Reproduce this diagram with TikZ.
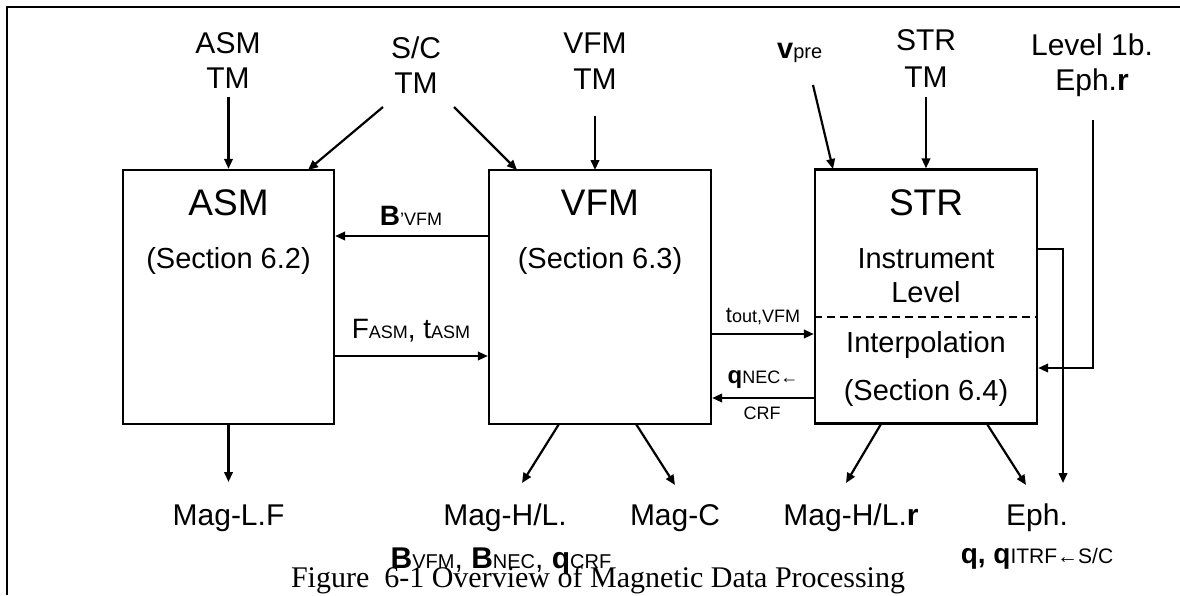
\documentclass[tikz,border=0pt]{standalone}
\usepackage{fontspec}
\setmainfont{Liberation Sans}
\newfontfamily\capfont{Liberation Serif}
\usetikzlibrary{arrows.meta}
\newcommand{\fs}[1]{\fontsize{#1}{#1}\selectfont}
\begin{document}
\begin{tikzpicture}[x=1pt,y=-1pt,
  box/.style={draw, line width=2.3pt, inner sep=0pt},
  txt/.style={inner sep=0pt, anchor=base, font={\fs{30}}},
  title/.style={inner sep=0pt, anchor=base, font={\fs{37}}},
  inner/.style={inner sep=0pt, anchor=base, font={\fs{29}}},
  lab/.style={inner sep=0pt, anchor=base},
  arr/.style={line width=2.2pt, -{Triangle[length=10pt,width=8.5pt]}}
]
\useasboundingbox (0,0) rectangle (1180,595);
% frame
\draw[line width=2.8pt] (7,595) -- (7,7) -- (1180,7);

% boxes
\node[box, minimum width=211pt, minimum height=254pt] (asm) at (228.5,297) {};
\node[box, minimum width=222pt, minimum height=254pt] (vfm) at (600,297) {};
\node[box, minimum width=222pt, minimum height=254pt] (str) at (926,296.5) {};

% box texts
\node[title] (asmT) at (228.5,215) {ASM};
\node[inner] (asmS) at (228.5,268) {(Section 6.2)};
\node[title] (vfmT) at (600,215) {VFM};
\node[inner] (vfmS) at (600,268) {(Section 6.3)};
\node[title] (strT) at (926,215) {STR};
\node[inner] (strI) at (926,268) {Instrument};
\node[inner] (strL) at (926,302) {Level};
\node[inner] (strP) at (926,352) {Interpolation};
\node[inner] (strS) at (926,400) {(Section 6.4)};
\coordinate (yD) at (0,317);
\draw[line width=1.8pt, dash pattern=on 8pt off 5pt] (str.west |- yD) -- (str.east |- yD);

% top labels
\node[txt] (asmtm1) at (228,53) {ASM};
\node[txt] (asmtm2) at (228,88) {TM};
\node[txt] (sctm1) at (416,58) {S/C};
\node[txt] (sctm2) at (416,93) {TM};
\node[txt] (vfmtm1) at (595,53) {VFM};
\node[txt] (vfmtm2) at (595,89) {TM};
\node[lab, anchor=base west] (vpre) at (777,58) {{\fs{29}\textbf{v}}{\fs{20}pre}};
\node[txt] (strtm1) at (926,50) {STR};
\node[txt] (strtm2) at (926,87) {TM};
\node[txt] (lev1) at (1092,55) {Level 1b.};
\node[txt] (lev2) at (1092,90) {Eph.\textbf{r}};

% top connectors
\coordinate (a1) at (228.5,97);
\draw[arr] (a1) -- (asm.north);
\coordinate (sc1) at (383,107);
\coordinate (sc1e) at (308,170);
\draw[arr] (sc1) -- (sc1e);
\coordinate (sc2) at (454,107);
\coordinate (sc2e) at (517,170);
\draw[arr] (sc2) -- (sc2e);
\coordinate (v1) at (595,116);
\coordinate (v1e) at (595,170);
\draw[arr] (v1) -- (v1e);
\coordinate (vp1) at (813,85);
\coordinate (vp1e) at (833,169);
\draw[arr] (vp1) -- (vp1e);
\coordinate (s1) at (926,97);
\draw[arr] (s1) -- (str.north);
\coordinate (l1) at (1093,120);
\coordinate (yL) at (0,368);
\draw[arr] (l1) |- (str.east |- yL);
\coordinate (yF) at (0,249);
\coordinate (fb) at (1063,483);
\draw[arr] (str.east |- yF) -| (fb);

% horizontal connectors
\coordinate (yB) at (0,236);
\draw[arr] (vfm.west |- yB) -- (asm.east |- yB);
\node[lab] (bl) at (411,225) {{\fs{28}\textbf{B}}{\fs{18}’VFM}};
\coordinate (yA) at (0,356);
\draw[arr] (asm.east |- yA) -- (vfm.west |- yA);
\node[lab] (fl) at (411,338) {{\fs{28}F{\fs{18}ASM}, t{\fs{18}ASM}}};
\coordinate (yT) at (0,334);
\draw[arr] (vfm.east |- yT) -- (str.west |- yT);
\node[lab] (tl) at (763,322) {{\fs{22}t}{\fs{18}out,VFM}};
\coordinate (yQ) at (0,398);
\draw[arr] (str.west |- yQ) -- (vfm.east |- yQ);
\node[lab] (ql) at (763,383) {{\fs{24}\textbf{q}}{\fs{18}NEC←}};
\node[lab] (ql2) at (762,419) {{\fs{18}CRF}};

% bottom connectors
\coordinate (b1) at (228.5,482);
\draw[arr] (asm.south) -- (b1);
\coordinate (b2s) at (559,424);
\coordinate (b2) at (522,483);
\draw[arr] (b2s) -- (b2);
\coordinate (b3s) at (636,424);
\coordinate (b3) at (675,485);
\draw[arr] (b3s) -- (b3);
\coordinate (b4s) at (881,424);
\coordinate (b4) at (846,483);
\draw[arr] (b4s) -- (b4);
\coordinate (b5s) at (987,424);
\coordinate (b5) at (1026,485);
\draw[arr] (b5s) -- (b5);

% bottom labels
\node[txt] (magLF) at (228.5,525) {Mag-L.F};
\node[txt] (magHL) at (505,525) {Mag-H/L.};
\node[lab] (magHL2) at (501,568) {{\fs{30}\textbf{B}}{\fs{20}VFM}{\fs{30}, \textbf{B}}{\fs{20}NEC}{\fs{30}, \textbf{q}}{\fs{20}CRF}};
\node[txt] (magC) at (675,525) {Mag-C};
\node[txt] (magHLr) at (851,525) {Mag-H/L.\textbf{r}};
\node[txt] (eph) at (1037,525) {Eph.};
\node[lab] (eph2) at (1037,563) {{\fs{28}\textbf{q, q}}{\fs{21}ITRF←S/C}};

% caption
\node[lab, font={\capfont\fs{30}}] (cap) at (598,587) {Figure\ \ 6-1 Overview of Magnetic Data Processing};
\end{tikzpicture}
\end{document}
